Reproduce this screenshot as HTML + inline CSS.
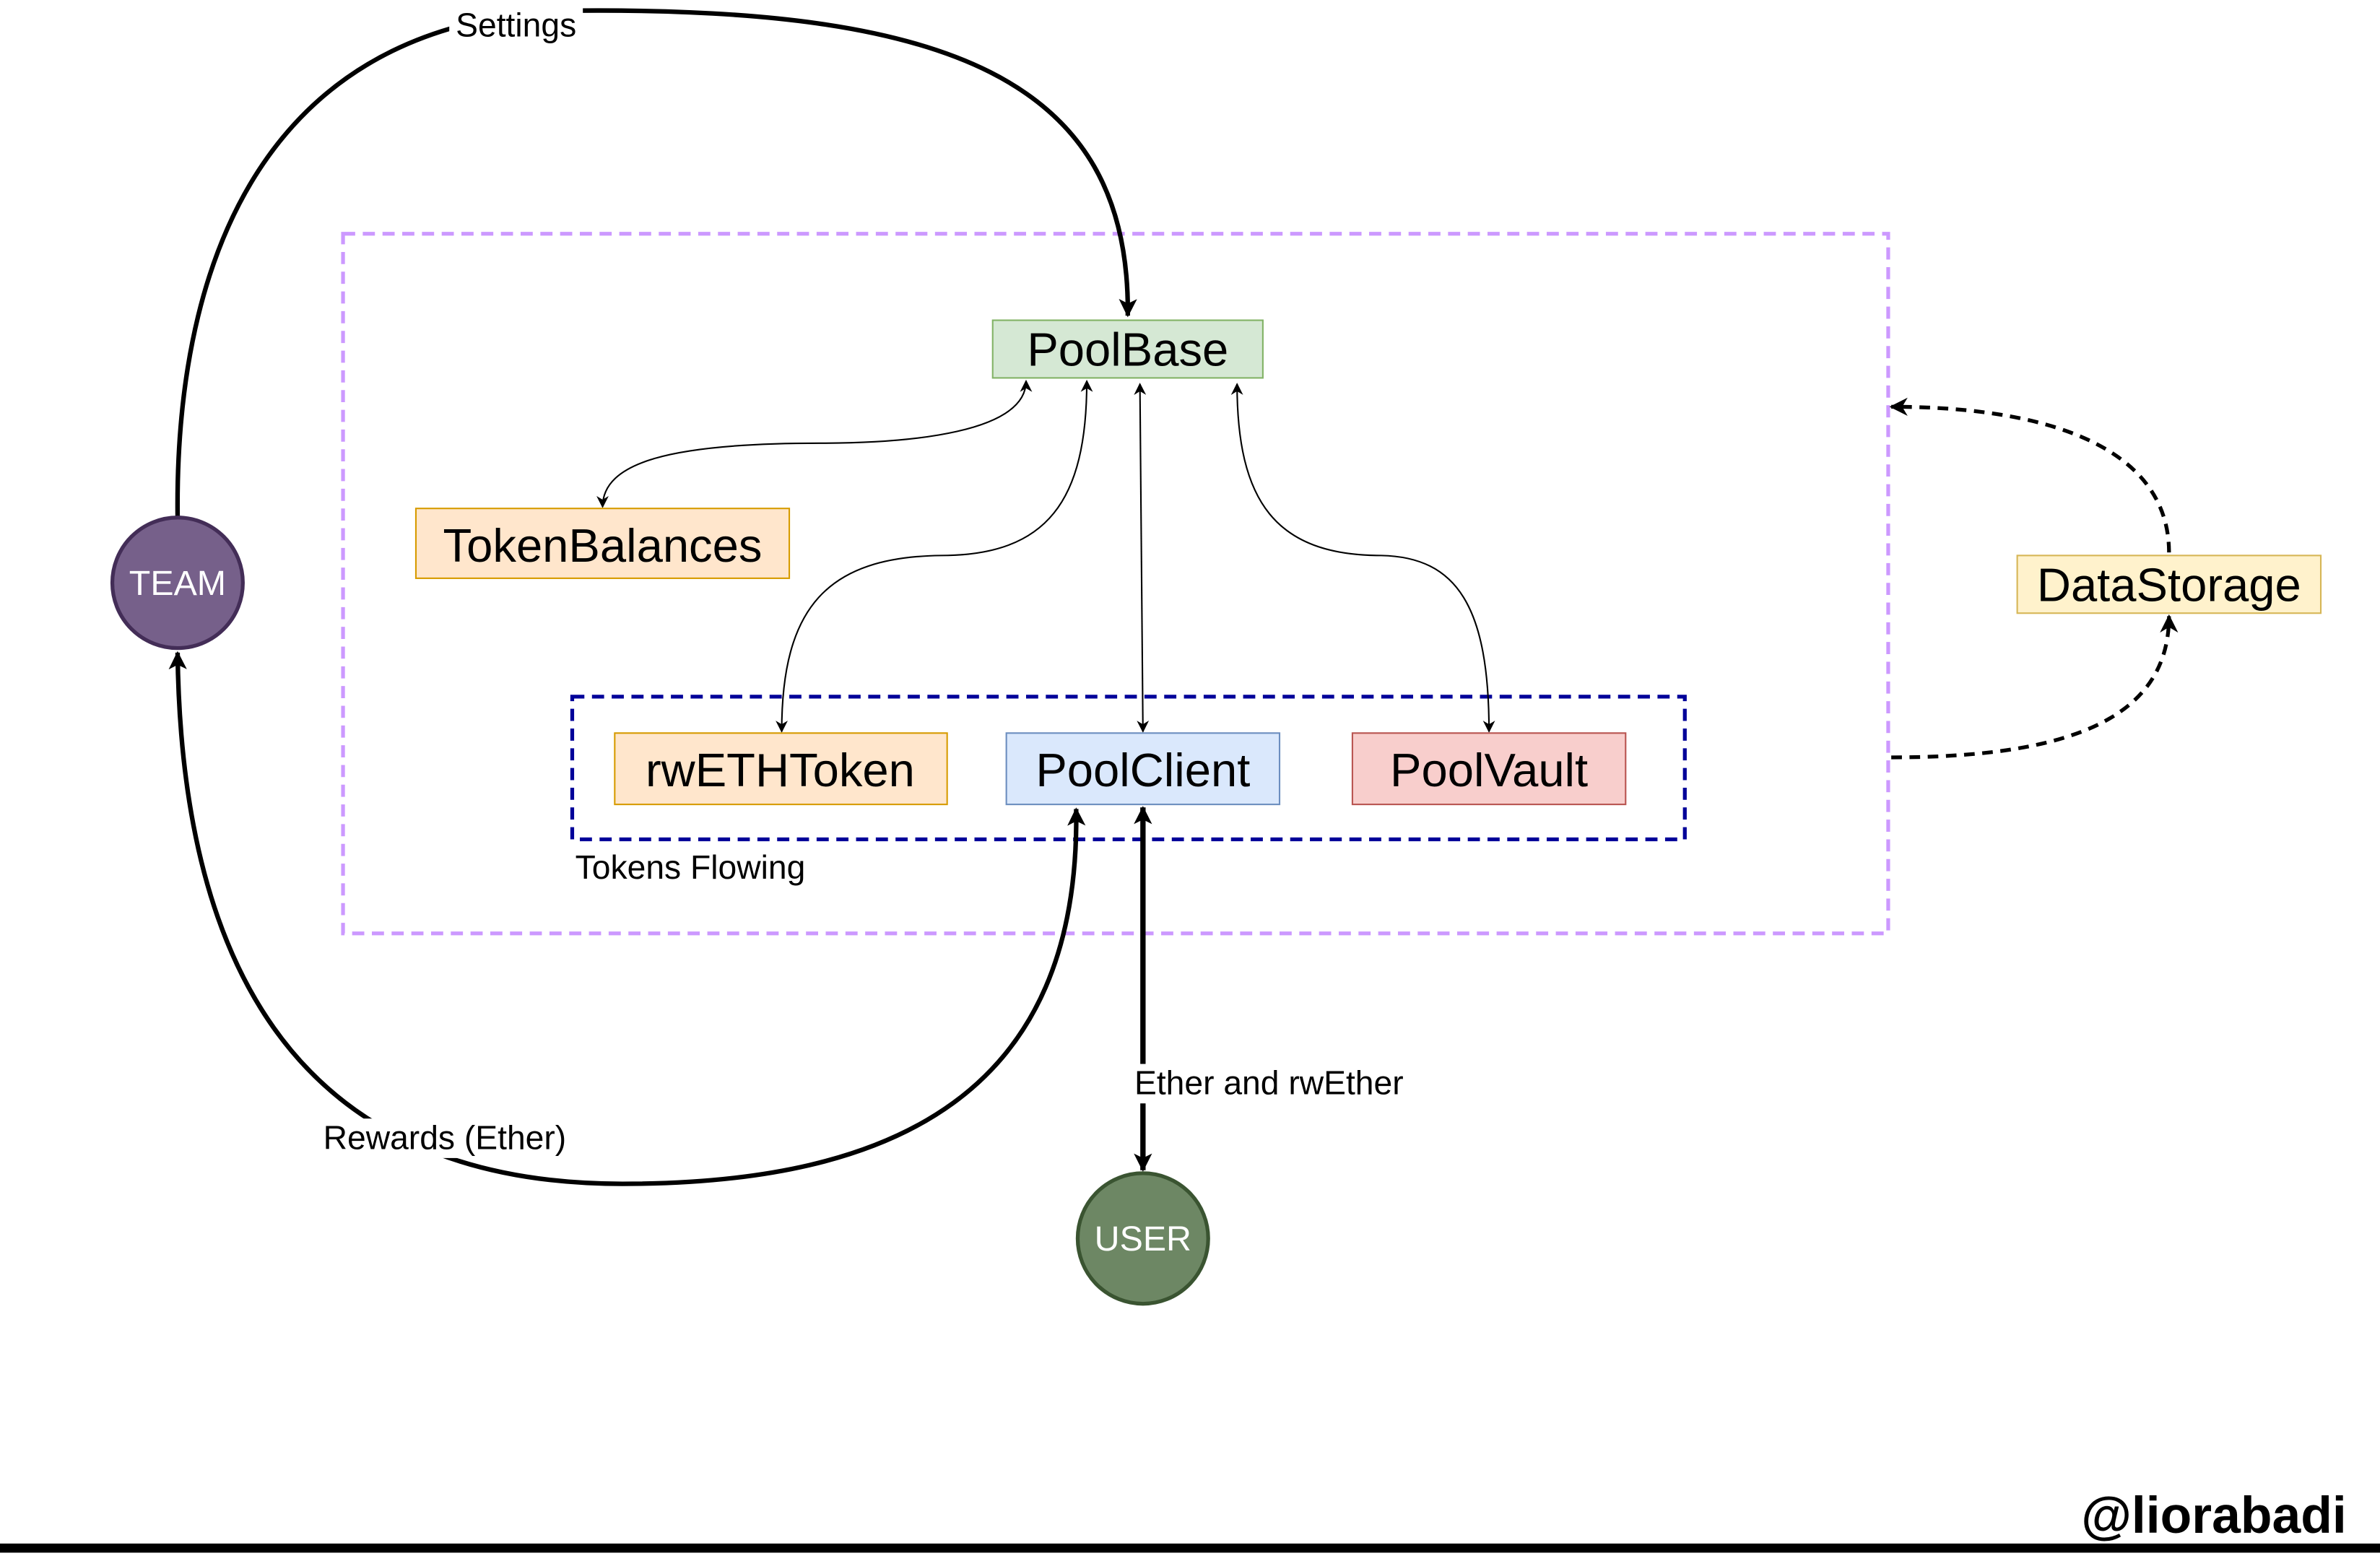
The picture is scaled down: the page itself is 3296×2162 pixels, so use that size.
<!DOCTYPE html>
<html><head><meta charset="utf-8"><style>html,body{margin:0;padding:0;background:#fff}svg{display:block}</style></head>
<body>
<svg width="3296" height="2162" viewBox="0 0 1568 1028.5" preserveAspectRatio="none" xmlns="http://www.w3.org/2000/svg" font-family="Liberation Sans, Arial, sans-serif">
<defs>
<marker id="big" markerUnits="userSpaceOnUse" viewBox="0 0 12 12" refX="11" refY="6" markerWidth="12" markerHeight="16" orient="auto-start-reverse"><path d="M0,0 L12,6 L0,12 L3,6 Z" fill="#000"/></marker>
<marker id="sm" markerUnits="userSpaceOnUse" viewBox="0 0 10 10" refX="9" refY="5" markerWidth="8" markerHeight="8" orient="auto-start-reverse"><path d="M0,0 L10,5 L0,10 L3,5 Z" fill="#000"/></marker>
<marker id="mid" markerUnits="userSpaceOnUse" viewBox="0 0 10 10" refX="9" refY="5" markerWidth="12" markerHeight="12" orient="auto-start-reverse"><path d="M0,0 L10,5 L0,10 L3,5 Z" fill="#000"/></marker>
</defs>
<rect width="1568" height="1028.5" fill="#fff"/>
<!-- containers -->
<rect x="226" y="154" width="1018" height="461" fill="none" stroke="#cc99ff" stroke-width="2.5" stroke-dasharray="8 5"/>
<rect x="377" y="459" width="733" height="94" fill="none" stroke="#000099" stroke-width="2.5" stroke-dasharray="8 5"/>
<text x="379" y="579" font-size="22">Tokens Flowing</text>
<!-- thick curves -->
<path d="M117,340 C115,150 190,10 380,7 C620,5 745,50 743,208" fill="none" stroke="#000" stroke-width="3" marker-end="url(#big)"/>
<path d="M709,533 C712,720 590,780 410,780 C250,780 120,700 117,430" fill="none" stroke="#000" stroke-width="3" marker-start="url(#big)" marker-end="url(#big)"/>
<line x1="753" y1="532" x2="753" y2="771" stroke="#000" stroke-width="3.5" marker-start="url(#big)" marker-end="url(#big)"/>
<!-- thin connectors -->
<path d="M676,251 C676,285 600,292 540,292 C440,292 397,305 397,334" fill="none" stroke="#000" stroke-width="1" marker-start="url(#sm)" marker-end="url(#sm)"/>
<path d="M716,251 C716,330 690,366 620,366 C545,367 515,400 515,482" fill="none" stroke="#000" stroke-width="1" marker-start="url(#sm)" marker-end="url(#sm)"/>
<line x1="751" y1="253" x2="753" y2="482" stroke="#000" stroke-width="1" marker-start="url(#sm)" marker-end="url(#sm)"/>
<path d="M815,253 C815,330 840,366 910,366 C960,367 981,400 981,482" fill="none" stroke="#000" stroke-width="1" marker-start="url(#sm)" marker-end="url(#sm)"/>
<!-- dashed to DataStorage -->
<path d="M1429,364 C1429,300 1360,268 1246,268" fill="none" stroke="#000" stroke-width="2.5" stroke-dasharray="7 5" marker-end="url(#mid)"/>
<path d="M1246,499 C1360,499 1429,475 1429,406" fill="none" stroke="#000" stroke-width="2.5" stroke-dasharray="7 5" marker-end="url(#mid)"/>
<!-- labels with bg -->
<rect x="296" y="4" width="88" height="24" fill="#fff"/>
<text x="340" y="24" font-size="22" text-anchor="middle">Settings</text>
<rect x="203" y="737" width="180" height="26" fill="#fff"/>
<text x="293" y="757" font-size="22" text-anchor="middle">Rewards (Ether)</text>
<rect x="736" y="701" width="200" height="26" fill="#fff"/>
<text x="836" y="721" font-size="22" text-anchor="middle">Ether and rwEther</text>
<!-- nodes -->
<rect x="654" y="211" width="178" height="38" fill="#d5e8d4" stroke="#82b366"/>
<text x="743" y="241" font-size="31" text-anchor="middle">PoolBase</text>
<rect x="274" y="335" width="246" height="46" fill="#ffe6cc" stroke="#d79b00"/>
<text x="397" y="370" font-size="31" text-anchor="middle">TokenBalances</text>
<rect x="405" y="483" width="219" height="47" fill="#ffe6cc" stroke="#d79b00"/>
<text x="514" y="518" font-size="31" text-anchor="middle">rwETHToken</text>
<rect x="663" y="483" width="180" height="47" fill="#dae8fc" stroke="#6c8ebf"/>
<text x="753" y="518" font-size="31" text-anchor="middle">PoolClient</text>
<rect x="891" y="483" width="180" height="47" fill="#f8cecc" stroke="#b85450"/>
<text x="981" y="518" font-size="31" text-anchor="middle">PoolVault</text>
<rect x="1329" y="366" width="200" height="38" fill="#fff2cc" stroke="#d6b656"/>
<text x="1429" y="396" font-size="31" text-anchor="middle">DataStorage</text>
<circle cx="117" cy="384" r="43" fill="#76608a" stroke="#432d57" stroke-width="2.5"/>
<text x="117" y="392" font-size="23" fill="#fff" text-anchor="middle">TEAM</text>
<circle cx="753" cy="816" r="43" fill="#6d8764" stroke="#3a5431" stroke-width="2.5"/>
<text x="753" y="824" font-size="23" fill="#fff" text-anchor="middle">USER</text>
<!-- footer -->
<text x="1546" y="1010" font-size="34" font-weight="bold" text-anchor="end">@liorabadi</text>
<rect x="0" y="1017" width="1568" height="6" fill="#000"/>
</svg>
</body></html>
